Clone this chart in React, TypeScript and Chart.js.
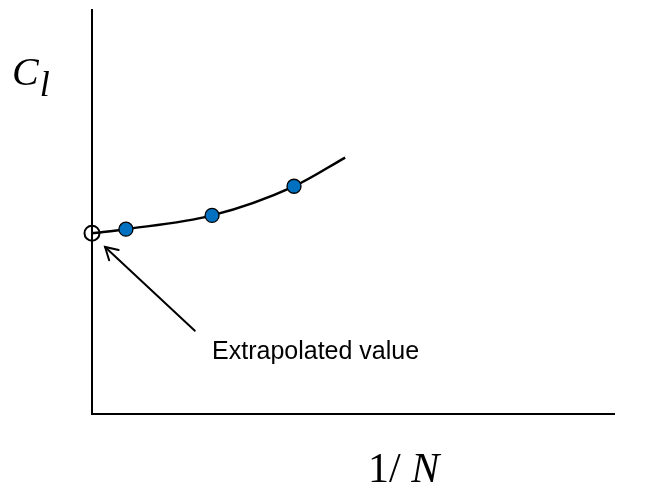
import React, { useEffect, useRef } from "react";
import { Chart, registerables } from "chart.js";

Chart.register(...registerables);

// Smooth fitted curve (in axis units, 0..1 on both axes)
const curveX = [0, 0.065, 0.23, 0.387, 0.485];
const curveY = [0.447, 0.457, 0.491, 0.563, 0.634];
// Computed (measured) values
const measuredX = [0.065, 0.23, 0.387];
const measuredY = [0.457, 0.491, 0.563];
// Extrapolated value at 1/N = 0
const extrapolatedX = [0];
const extrapolatedY = [0.447];
// Annotation arrow (tail -> head) and note
const arrowTail = [0.197, 0.206];
const arrowHead = [0.025, 0.413];
const noteText = "Extrapolated value";
const notePos = [0.23, 0.135];

const xLabelMain = "1/ ";
const xLabelItalic = "N";
const yLabelMain = "C";
const yLabelSub = "l";

const toPoints = (xs: number[], ys: number[]) => xs.map((x, i) => ({ x, y: ys[i] }));

const annotationPlugin = {
  id: "annotations",
  afterDraw(chart: any) {
    const { ctx, chartArea, scales } = chart;
    const xs = scales.x;
    const ys = scales.y;
    ctx.save();
    // arrow
    const tx = xs.getPixelForValue(arrowTail[0]);
    const ty = ys.getPixelForValue(arrowTail[1]);
    const hx = xs.getPixelForValue(arrowHead[0]);
    const hy = ys.getPixelForValue(arrowHead[1]);
    ctx.strokeStyle = "#000";
    ctx.lineWidth = 2;
    ctx.lineCap = "round";
    ctx.beginPath();
    ctx.moveTo(tx, ty);
    ctx.lineTo(hx, hy);
    ctx.stroke();
    const ang = Math.atan2(hy - ty, hx - tx);
    const len = 14;
    const spread = Math.PI / 6;
    ctx.beginPath();
    ctx.moveTo(hx - len * Math.cos(ang - spread), hy - len * Math.sin(ang - spread));
    ctx.lineTo(hx, hy);
    ctx.lineTo(hx - len * Math.cos(ang + spread), hy - len * Math.sin(ang + spread));
    ctx.stroke();

    // note
    ctx.fillStyle = "#000";
    ctx.font = '25px "Liberation Sans", Arial, sans-serif';
    ctx.textBaseline = "alphabetic";
    ctx.textAlign = "left";
    ctx.fillText(noteText, xs.getPixelForValue(notePos[0]), ys.getPixelForValue(notePos[1]));

    // y label C_l
    ctx.font = 'italic 40px "Liberation Serif", "Times New Roman", serif';
    const cx = chartArea.left - 80;
    const cy = chartArea.top + 75;
    ctx.fillText(yLabelMain, cx, cy);
    const cw = ctx.measureText(yLabelMain).width;
    ctx.font = 'italic 36px "Liberation Serif", "Times New Roman", serif';
    ctx.fillText(yLabelSub, cx + cw + 1, cy + 11);

    // x label 1/N
    ctx.font = '42px "Liberation Serif", "Times New Roman", serif';
    const lx = chartArea.left + 276;
    const ly = chartArea.bottom + 68;
    ctx.fillText(xLabelMain, lx, ly);
    const lw = ctx.measureText(xLabelMain).width;
    ctx.font = 'italic 42px "Liberation Serif", "Times New Roman", serif';
    ctx.fillText(xLabelItalic, lx + lw, ly);
    ctx.restore();
  },
};

export default function App() {
  const canvasRef = useRef<HTMLCanvasElement | null>(null);

  useEffect(() => {
    document.body.style.margin = "0";
    const canvas = canvasRef.current;
    if (!canvas) return;
    const chart = new Chart(canvas, {
      type: "scatter",
      data: {
        datasets: [
          {
            label: "measured",
            data: toPoints(measuredX, measuredY),
            showLine: false,
            pointRadius: 7,
            pointBackgroundColor: "#0070C0",
            pointBorderColor: "#000",
            pointBorderWidth: 1.3,
            order: 0,
          },
          {
            label: "extrapolated",
            data: toPoints(extrapolatedX, extrapolatedY),
            showLine: false,
            pointRadius: 7.5,
            pointBackgroundColor: "rgba(0,0,0,0)",
            pointBorderColor: "#000",
            pointBorderWidth: 2,
            order: 1,
          },
          {
            label: "curve",
            data: toPoints(curveX, curveY),
            showLine: true,
            borderColor: "#000",
            borderWidth: 2.5,
            pointRadius: 0,
            cubicInterpolationMode: "monotone",
            fill: false,
            order: 2,
          },
        ],
      },
      options: {
        animation: false,
        responsive: true,
        maintainAspectRatio: false,
        clip: false as any,
        layout: { padding: { left: 84, top: 7, right: 39, bottom: 65 } },
        plugins: { legend: { display: false }, tooltip: { enabled: false } },
        scales: {
          x: {
            type: "linear",
            min: 0,
            max: 1,
            grid: { display: false },
            ticks: { display: false },
            border: { display: true, color: "#000", width: 2 },
          },
          y: {
            type: "linear",
            min: 0,
            max: 1,
            grid: { display: false },
            ticks: { display: false },
            border: { display: true, color: "#000", width: 2 },
          },
        },
      },
      plugins: [annotationPlugin],
    });
    return () => chart.destroy();
  }, []);

  return (
    <div style={{ position: "relative", width: 653, height: 487, background: "#fff" }}>
      <canvas ref={canvasRef} />
    </div>
  );
}
